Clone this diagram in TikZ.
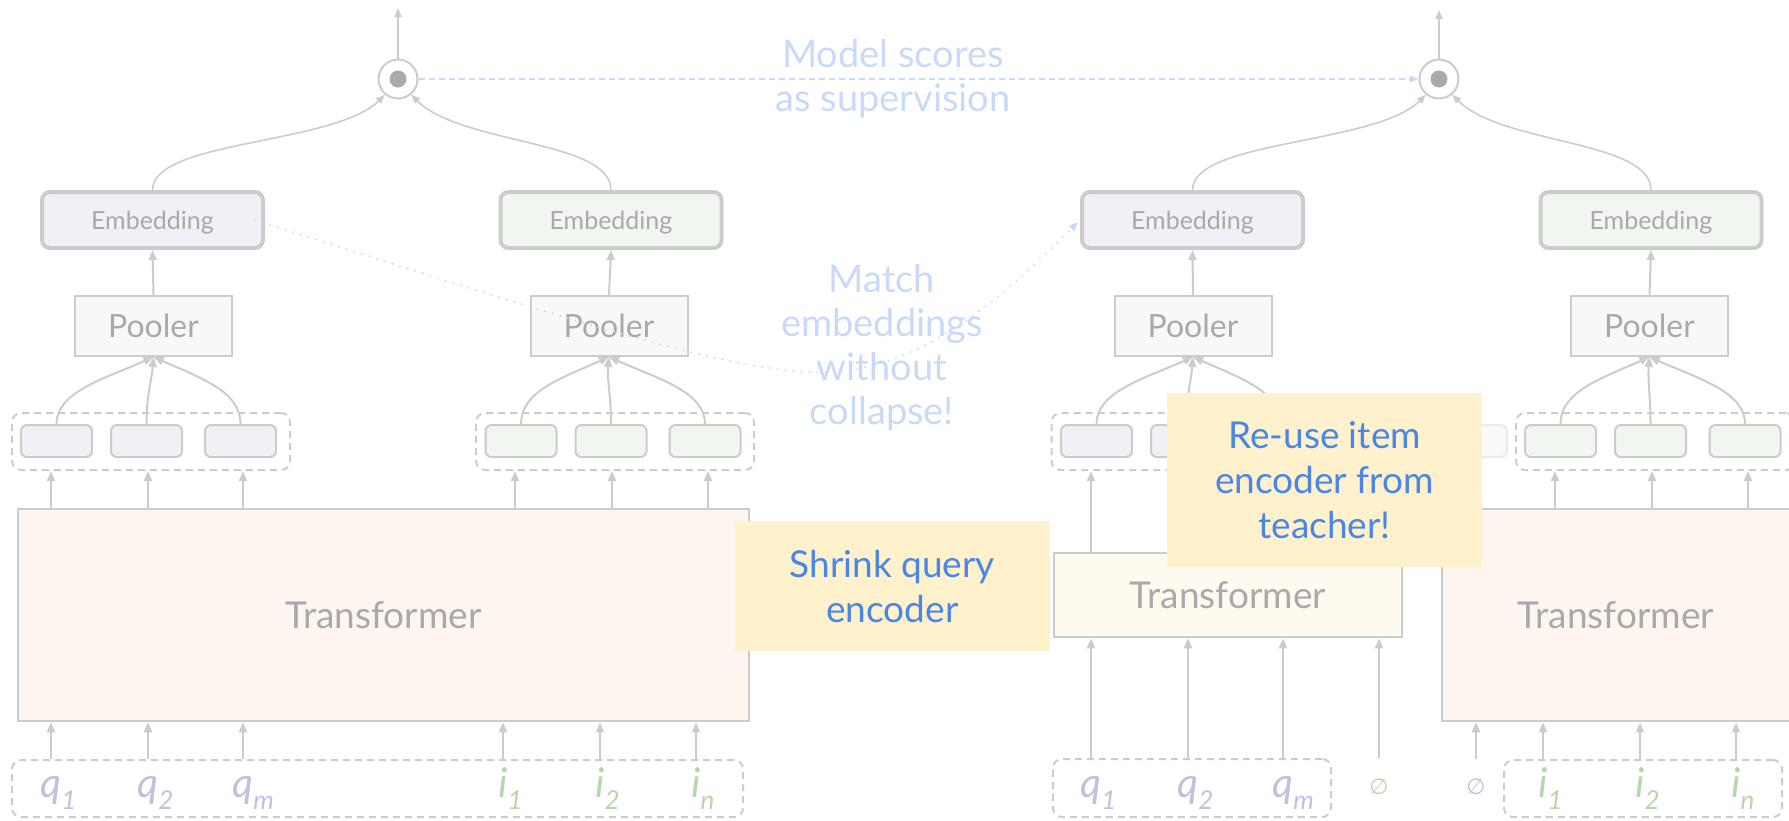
\documentclass[tikz,border=0pt]{standalone}
\usepackage{fontspec}
\setmainfont{Lato}
\newfontfamily\djv{DejaVu Sans}
\usetikzlibrary{arrows.meta}
\definecolor{lgray}{HTML}{CCCCCC}
\definecolor{tgray}{HTML}{A9A9A9}
\definecolor{lav}{HTML}{F0F0F7}
\definecolor{grn}{HTML}{F1F6F0}
\definecolor{poolf}{HTML}{F8F8F8}
\definecolor{trf}{HTML}{FDF5EE}
\definecolor{trs}{HTML}{FEFAF0}
\definecolor{notef}{HTML}{FEF1CC}
\definecolor{noteb}{HTML}{4A86E8}
\definecolor{lblue}{HTML}{C9DAF8}
\definecolor{qcol}{HTML}{C5BEE2}
\definecolor{icol}{HTML}{B8D6AB}
\definecolor{dotc}{HTML}{AAAAAA}
\definecolor{fadef}{HTML}{F9F9F9}
\definecolor{fadeb}{HTML}{EBEBEB}
\newcommand\myfs[2]{\fontsize{#1}{#2}\selectfont}
\newcommand\qlab[2]{\textit{#1}\rlap{\raisebox{-12pt}{\myfs{26}{26}\textit{#2}}}}
\tikzset{
  arr/.style={draw=lgray, line width=2pt, -{Triangle[length=10pt,width=8pt]}},
  arrs/.style={draw=lgray, line width=1.6pt, -{Triangle[length=9pt,width=7pt]}},
  emb/.style={draw=lgray, line width=4pt, rounded corners=8pt, minimum width=221pt, minimum height=56pt, inner sep=0pt, text=tgray, font=\myfs{25}{25}, text height=18pt, text depth=0pt},
  pool/.style={draw=lgray, line width=2pt, fill=poolf, minimum width=157pt, minimum height=60pt, text=tgray, font=\myfs{32}{32}, inner sep=0pt, text height=23pt, text depth=0pt},
  tok/.style={draw=lgray, line width=2pt, rounded corners=6pt, minimum width=71pt, minimum height=32pt, inner sep=0pt},
  grp/.style={draw=lgray, line width=2pt, dash pattern=on 7pt off 5pt, rounded corners=9pt, inner sep=0pt, minimum width=278pt, minimum height=57pt},
  trans/.style={draw=lgray, line width=2.5pt, text=tgray, font=\myfs{37}{37}, inner sep=0pt, text height=26.5pt, text depth=0pt},
  note/.style={fill=notef, text=noteb, font=\myfs{37}{45}, align=center, inner sep=0pt, minimum width=315pt},
  ltxt/.style={text=lblue, font=\myfs{38}{44}, align=center, inner sep=0pt},
  lab/.style={font=\myfs{41}{41}, inner sep=0pt, anchor=base},
  nul/.style={font=\djv\myfs{22}{22}, inner sep=0pt},
  circ/.style={circle, draw=lgray, line width=2pt, fill=white, minimum size=39pt, inner sep=0pt},
}
\begin{document}
\begin{tikzpicture}[x=1pt,y=-1pt]
\useasboundingbox (0,0) rectangle (1789,820);
\clip (0,0) rectangle (1789,820);
% ---------------- teacher ----------------
\node[circ] (C1) at (398,79) {};
\fill[dotc] (C1.center) circle (8.5pt);
\coordinate (top1) at (398,8);
\draw[arrs] (C1.north) -- (top1);
\node[emb, fill=lav] (E1) at (152.5,220) {Embedding};
\node[emb, fill=grn] (E2) at (611,220) {Embedding};
\node[pool] (P1) at (153.5,326) {Pooler};
\node[pool] (P2) at (609,326) {Pooler};
\node[grp] (G1) at (151,441.5) {};
\node[tok, fill=lav] (tq1) at (56.5,441) {};
\node[tok, fill=lav] (tq2) at (146.5,441) {};
\node[tok, fill=lav] (tq3) at (240.5,441) {};
\node[grp] (G2) at (615,441.5) {};
\node[tok, fill=grn] (ti1) at (521,441) {};
\node[tok, fill=grn] (ti2) at (611,441) {};
\node[tok, fill=grn] (ti3) at (705,441) {};
\node[trans, fill=trf, minimum width=731pt, minimum height=212pt] (T1) at (383.5,615) {Transformer};
\node[grp, minimum width=731pt] (B1) at (377.5,788.5) {};
\node[lab, text=qcol] (lq1) at (51,797) {\qlab{q}{1}};
\node[lab, text=qcol] (lq2) at (148,797) {\qlab{q}{2}};
\node[lab, text=qcol] (lq3) at (243,797) {\qlab{q}{m}};
\node[lab, text=icol] (li1) at (503,797) {\qlab{i}{1}};
\node[lab, text=icol] (li2) at (600,797) {\qlab{i}{2}};
\node[lab, text=icol] (li3) at (696,797) {\qlab{i}{n}};
\foreach \n in {lq1,lq2,lq3,li1,li2,li3}
  \draw[arr] (\n |- B1.north) -- (\n |- T1.south);
\coordinate (u1) at (51,0);
\coordinate (u2) at (148,0);
\coordinate (u3) at (243,0);
\coordinate (u4) at (515,0);
\coordinate (u5) at (612,0);
\coordinate (u6) at (708,0);
\foreach \n in {u1,u2,u3} \draw[arr] (\n |- T1.north) -- (\n |- G1.south);
\foreach \n in {u4,u5,u6} \draw[arr] (\n |- T1.north) -- (\n |- G2.south);
\draw[arr] (tq1.north) .. controls +(0,-32) and +(-50,22) .. (P1.south);
\draw[arr] (tq2.north) .. controls +(0,-30) and +(-2,25) .. (P1.south);
\draw[arr] (tq3.north) .. controls +(0,-32) and +(50,22) .. (P1.south);
\draw[arr] (ti1.north) .. controls +(0,-32) and +(-50,22) .. (P2.south);
\draw[arr] (ti2.north) .. controls +(0,-30) and +(-2,25) .. (P2.south);
\draw[arr] (ti3.north) .. controls +(0,-32) and +(50,22) .. (P2.south);
\draw[arr] (P1.north) -- (E1.south);
\draw[arr] (P2.north) -- (E2.south);
\draw[arrs] (E1.north) .. controls +(0,-50) and +(-50,50) .. (C1.230);
\draw[arrs] (E2.north) .. controls +(0,-50) and +(50,50) .. (C1.310);
% ---------------- student ----------------
\node[circ] (C2) at (1439,79) {};
\fill[dotc] (C2.center) circle (8.5pt);
\coordinate (top2) at (1439,10);
\draw[arrs] (C2.north) -- (top2);
\node[emb, fill=lav] (E3) at (1192.5,220) {Embedding};
\node[emb, fill=grn] (E4) at (1651,220) {Embedding};
\node[pool] (P3) at (1193,326) {Pooler};
\node[pool] (P4) at (1649.5,326) {Pooler};
\node[grp] (G3) at (1190.5,441.5) {};
\node[tok, fill=lav] (tq4) at (1096.5,441) {};
\node[tok, fill=lav] (tq5) at (1186.5,441) {};
\node[tok, fill=lav] (tq6) at (1280.5,441) {};
\node[tok, fill=fadef, draw=fadeb] (F) at (1471.5,441) {};
\node[grp, minimum width=279pt] (G4) at (1655.5,441.5) {};
\node[tok, fill=grn] (ti4) at (1560.5,441) {};
\node[tok, fill=grn] (ti5) at (1650.5,441) {};
\node[tok, fill=grn] (ti6) at (1745,441) {};
\node[trans, fill=trs, minimum width=348pt, minimum height=84pt] (S) at (1228,595) {Transformer};
\node[trans, fill=trf, minimum width=348pt, minimum height=212pt] (T2) at (1616,615) {Transformer};
\node[grp, minimum height=58pt] (B3) at (1192,788) {};
\node[grp] (B4) at (1643,788.5) {};
\node[lab, text=qcol] (lq4) at (1091,797) {\qlab{q}{1}};
\node[lab, text=qcol] (lq5) at (1188,797) {\qlab{q}{2}};
\node[lab, text=qcol] (lq6) at (1283,797) {\qlab{q}{m}};
\node[nul, text=icol] (z1) at (1379,787) {∅};
\node[nul, text=qcol] (z2) at (1476,787) {∅};
\node[lab, text=icol] (li4) at (1543,797) {\qlab{i}{1}};
\node[lab, text=icol] (li5) at (1640,797) {\qlab{i}{2}};
\node[lab, text=icol] (li6) at (1736,797) {\qlab{i}{n}};
\foreach \n in {lq4,lq5,lq6,z1} \draw[arr] (\n |- B3.north) -- (\n |- S.south);
\foreach \n in {li4,li5,li6,z2} \draw[arr] (\n |- B4.north) -- (\n |- T2.south);
\foreach \n in {lq4,lq5,lq6} \draw[arr] (\n |- S.north) -- (\n |- G3.south);
\coordinate (u7) at (1555,0);
\coordinate (u8) at (1652,0);
\coordinate (u9) at (1748,0);
\foreach \n in {u7,u8,u9} \draw[arr] (\n |- T2.north) -- (\n |- G4.south);
\draw[arr] (tq4.north) .. controls +(0,-32) and +(-50,22) .. (P3.south);
\draw[arr] (tq5.north) .. controls +(0,-30) and +(-2,25) .. (P3.south);
\draw[arr] (tq6.north) .. controls +(0,-32) and +(50,22) .. (P3.south);
\draw[arr] (ti4.north) .. controls +(0,-32) and +(-50,22) .. (P4.south);
\draw[arr] (ti5.north) .. controls +(0,-30) and +(-2,25) .. (P4.south);
\draw[arr] (ti6.north) .. controls +(0,-32) and +(50,22) .. (P4.south);
\draw[arr] (P3.north) -- (E3.south);
\draw[arr] (P4.north) -- (E4.south);
\draw[arrs] (E3.north) .. controls +(0,-50) and +(-50,50) .. (C2.230);
\draw[arrs] (E4.north) .. controls +(0,-50) and +(50,50) .. (C2.310);
% ---------------- annotations ----------------
\draw[lblue, line width=1.6pt, dash pattern=on 6pt off 4pt, -{Triangle[length=9pt,width=7pt]}] (C1.east) -- (C2.west);
\coordinate (m0) at (255,220);
\coordinate (m1) at (830,372);
\draw[lblue, line width=2.2pt, dash pattern=on 0pt off 8pt, line cap=round, -{Triangle[length=9pt,width=7pt]}, shorten >=3pt]
  (m0) .. controls (600,330) and (740,375) .. (m1) .. controls (930,368) and (1015,285) .. (E3.west);
\node[ltxt] (ms) at (893,78.5) {Model scores\\as supervision};
\node[ltxt] (me) at (882,348) {Match\\embeddings\\without\\collapse!};
\node[note, minimum height=130pt] (n1) at (892.5,586) {Shrink query\\encoder};
\node[note, minimum height=174pt] (n2) at (1324.5,480) {Re-use item\\encoder from\\teacher!};
\end{tikzpicture}
\end{document}
